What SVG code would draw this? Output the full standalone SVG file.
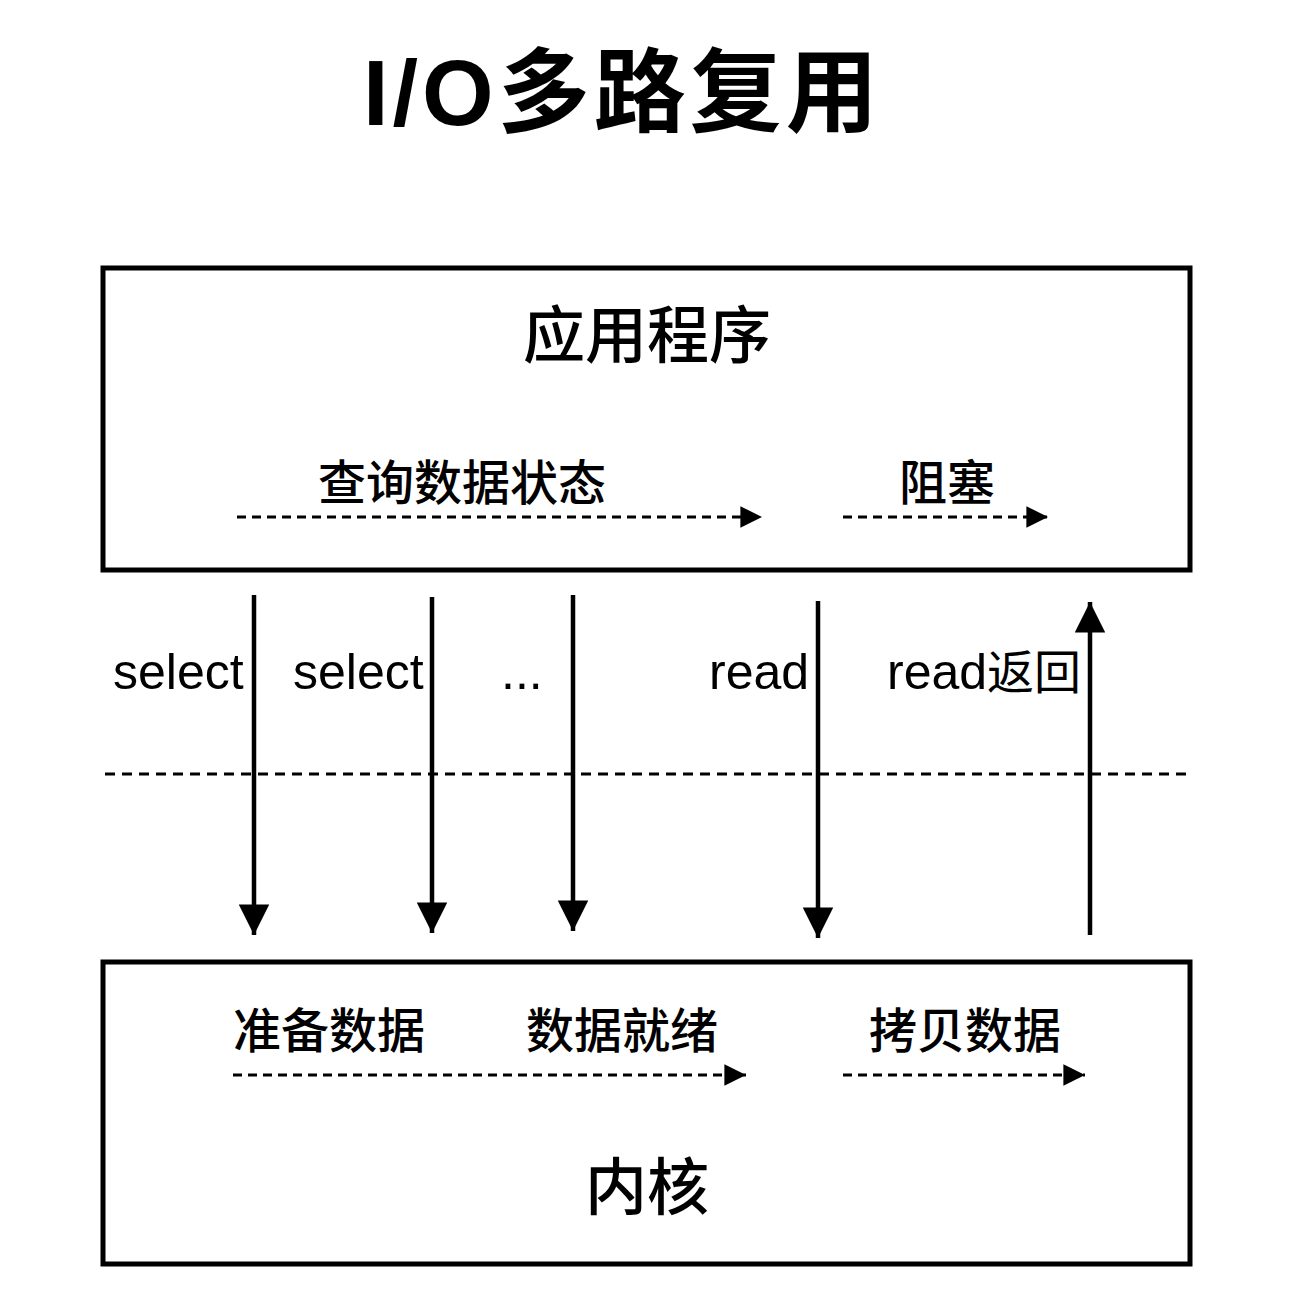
<svg xmlns="http://www.w3.org/2000/svg" width="1298" height="1292" viewBox="0 0 1298 1292">
  <style>
    .box { fill: #fff; stroke: #000; stroke-width: 5; }
    .title { font-family: "Liberation Sans", "Noto Sans CJK SC", sans-serif; font-weight: bold; font-size: 92px; letter-spacing: 4px; fill: #000; }
    .big { font-family: "Liberation Sans", "Noto Sans CJK SC", sans-serif; font-size: 62px; font-weight: 500; fill: #000; text-anchor: middle; }
    .lbl { font-family: "Liberation Sans", "Noto Sans CJK SC", sans-serif; font-size: 48px; font-weight: 500; fill: #000; }
    .call-lbl { font-family: "Liberation Sans", "Noto Sans CJK SC", sans-serif; font-size: 50px; fill: #000; }
    .call { stroke: #000; stroke-width: 4.5; fill: none; }
    .flow { stroke: #000; stroke-width: 3; stroke-dasharray: 9 6; fill: none; }
    .sep { stroke: #000; stroke-width: 3; stroke-dasharray: 10 7; fill: none; }
  </style>
  <defs>
    <marker id="solidHead" viewBox="0 0 10 10" refX="10" refY="5" markerWidth="6.8" markerHeight="6.8" markerUnits="strokeWidth" orient="auto">
      <path d="M0,0 L10,5 L0,10 Z" fill="#000"/>
    </marker>
    <marker id="flowHead" viewBox="0 0 10 10" refX="10" refY="5" markerWidth="7.2" markerHeight="7.2" markerUnits="strokeWidth" orient="auto">
      <path d="M0,0 L10,5 L0,10 Z" fill="#000"/>
    </marker>
  </defs>

  <rect width="1298" height="1292" fill="#fff"/>

  <text class="title" x="363" y="125">I/O多路复用</text>

  <g id="app">
    <rect class="box" x="103" y="268" width="1087" height="302"/>
    <text class="big" x="647" y="358">应用程序</text>
    <text class="lbl" x="318" y="500">查询数据状态</text>
    <text class="lbl" x="899" y="500">阻塞</text>
  </g>

  <g id="kernel">
    <rect class="box" x="103" y="962" width="1087" height="302"/>
    <text class="lbl" x="233" y="1048">准备数据</text>
    <text class="lbl" x="526" y="1048">数据就绪</text>
    <text class="lbl" x="869" y="1048">拷贝数据</text>
    <text class="big" x="647" y="1210">内核</text>
  </g>

  <g id="connectors">
    <!-- user/kernel boundary -->
    <path class="sep" d="M105,774 H1190"/>

    <!-- in-box timelines -->
    <path class="flow" d="M237,517 H762" marker-end="url(#flowHead)"/>
    <path class="flow" d="M843,517 H1048" marker-end="url(#flowHead)"/>
    <path class="flow" d="M233,1075 H746" marker-end="url(#flowHead)"/>
    <path class="flow" d="M843,1075 H1085" marker-end="url(#flowHead)"/>

    <!-- system calls -->
    <path class="call" d="M254,595 V935" marker-end="url(#solidHead)"/>
    <path class="call" d="M432,597 V933" marker-end="url(#solidHead)"/>
    <path class="call" d="M573,595 V931" marker-end="url(#solidHead)"/>
    <path class="call" d="M818,601 V938" marker-end="url(#solidHead)"/>
    <path class="call" d="M1090,935 V602" marker-end="url(#solidHead)"/>

    <text class="call-lbl" x="113" y="689">select</text>
    <text class="call-lbl" x="293" y="689">select</text>
    <text class="call-lbl" x="501" y="689">...</text>
    <text class="call-lbl" x="709" y="689">read</text>
    <text class="call-lbl" x="887" y="689">read<tspan font-size="47">返回</tspan></text>
  </g>
</svg>
